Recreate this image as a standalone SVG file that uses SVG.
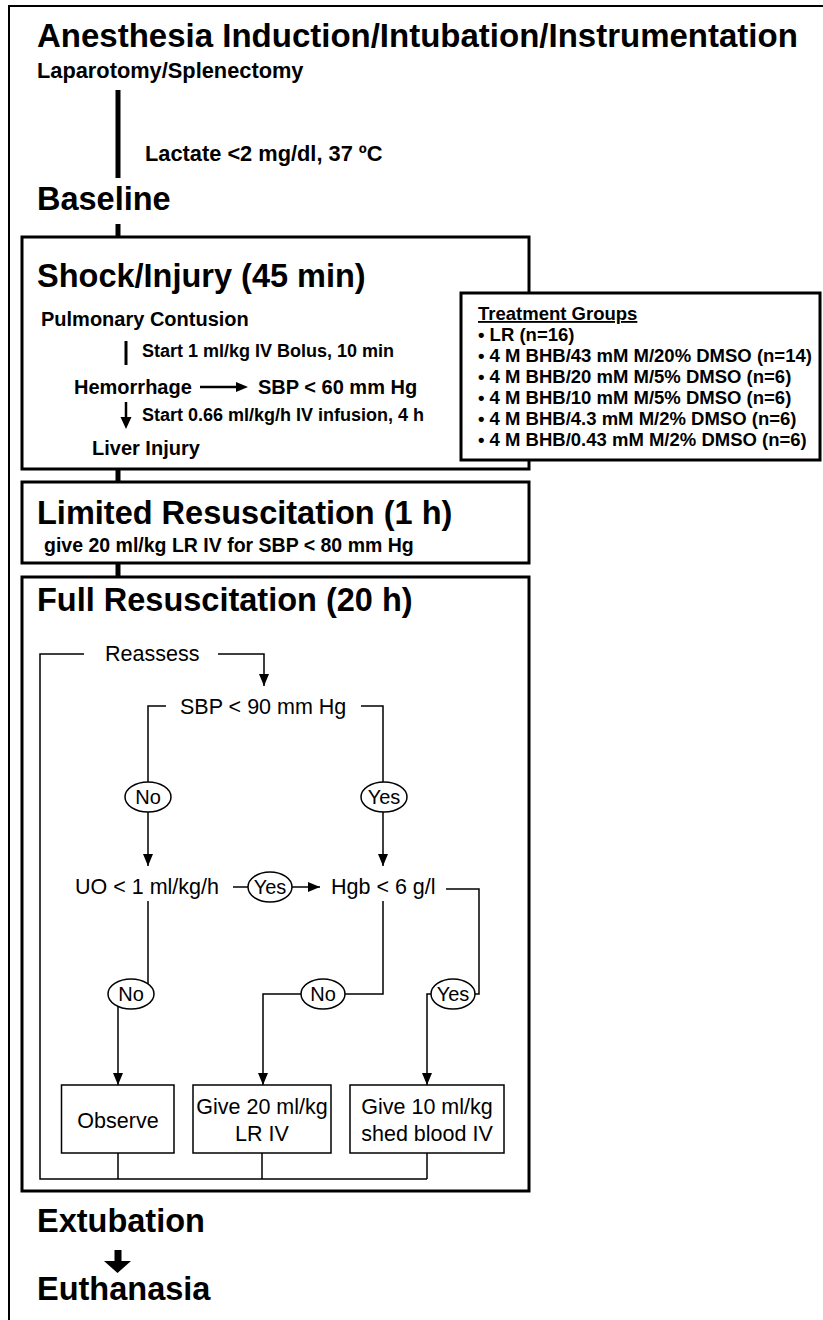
<svg xmlns="http://www.w3.org/2000/svg" width="823" height="1320" viewBox="0 0 823 1320">
<style>
text{font-family:"Liberation Sans",Arial,Helvetica,sans-serif;fill:#000}
.b{font-weight:bold}
.h{font-weight:bold;font-size:32.5px}
.s20{font-weight:bold;font-size:20px}
.s18{font-weight:bold;font-size:18px}
.tg{font-weight:bold;font-size:18.5px}
.fc{font-size:21.5px}
.yn{font-size:20px;text-anchor:middle}
.mid{text-anchor:middle}
.box{fill:#fff;stroke:#000;stroke-width:3}
.thick{stroke:#000;stroke-width:5;fill:none}
.thin{stroke:#000;stroke-width:1.5;fill:none}
.ell{fill:#fff;stroke:#000;stroke-width:1.5}
.fbox{fill:#fff;stroke:#000;stroke-width:1.5}
</style>
<defs>
<marker id="arr" markerUnits="userSpaceOnUse" markerWidth="12" markerHeight="10" refX="12" refY="5" orient="auto">
<path d="M0,0 L12,5 L0,10 z" fill="#000"/>
</marker>
</defs>
<rect x="0" y="0" width="823" height="1320" fill="#fff"/>
<path d="M9,1320 V6 H823" fill="none" stroke="#000" stroke-width="2"/>

<g id="connectors">
<line class="thick" x1="118" y1="90" x2="118" y2="178"/>
<line class="thick" x1="118" y1="224" x2="118" y2="238"/>
<line class="thick" x1="118" y1="469" x2="118" y2="482"/>
<line class="thick" x1="118" y1="563" x2="118" y2="577"/>
<path d="M432,353 H440 V414 H432 M440,383 H448" fill="none" stroke="#000" stroke-width="2.5"/>
<polygon points="114.5,1250 121.5,1250 121.5,1261 131,1261 117.5,1273 104,1261 114.5,1261" fill="#000"/>
</g>

<g id="induction">
<text class="b" x="37" y="47" font-size="33">Anesthesia Induction/Intubation/Instrumentation</text>
<text class="b" x="37" y="78" font-size="21.8">Laparotomy/Splenectomy</text>
<text class="b" x="145" y="161" font-size="21.8">Lactate &lt;2 mg/dl, 37 ºC</text>
</g>

<g id="baseline">
<text class="h" x="37" y="210">Baseline</text>
</g>

<g id="shock">
<rect class="box" x="22" y="237" width="507" height="232"/>
<text class="h" x="37" y="287">Shock/Injury (45 min)</text>
<text class="s20" x="41" y="326">Pulmonary Contusion</text>
<line x1="126" y1="341" x2="126" y2="365" stroke="#000" stroke-width="3"/>
<text class="s18" x="142" y="357">Start 1 ml/kg IV Bolus, 10 min</text>
<text class="s20" x="74" y="394">Hemorrhage</text>
<line x1="200" y1="387" x2="237" y2="387" stroke="#000" stroke-width="2.5"/>
<polygon points="236,382 248,387 236,392" fill="#000"/>
<text class="s20" x="258" y="394">SBP &lt; 60 mm Hg</text>
<line x1="126" y1="402" x2="126" y2="418" stroke="#000" stroke-width="2.5"/>
<polygon points="120.5,417 131.5,417 126,429" fill="#000"/>
<text class="s18" x="142" y="421">Start 0.66 ml/kg/h IV infusion, 4 h</text>
<text class="s20" x="92" y="455">Liver Injury</text>
</g>

<g id="treatment">
<rect class="box" x="461" y="293" width="359" height="167"/>
<text class="tg" x="478" y="320" text-decoration="underline">Treatment Groups</text>
<text class="tg" x="478" y="341">• LR (n=16)</text>
<text class="tg" x="478" y="362">• 4 M BHB/43 mM M/20% DMSO (n=14)</text>
<text class="tg" x="478" y="383">• 4 M BHB/20 mM M/5% DMSO (n=6)</text>
<text class="tg" x="478" y="404">• 4 M BHB/10 mM M/5% DMSO (n=6)</text>
<text class="tg" x="478" y="425">• 4 M BHB/4.3 mM M/2% DMSO (n=6)</text>
<text class="tg" x="478" y="446">• 4 M BHB/0.43 mM M/2% DMSO (n=6)</text>
</g>

<g id="limited">
<rect class="box" x="22" y="482" width="507" height="81"/>
<text class="h" x="37" y="524">Limited Resuscitation (1 h)</text>
<text class="b" x="44" y="552" font-size="19.5">give 20 ml/kg LR IV for SBP &lt; 80 mm Hg</text>
</g>

<g id="full">
<rect class="box" x="22" y="577" width="507" height="614"/>
<text class="h" x="37" y="611">Full Resuscitation (20 h)</text>
</g>

<g id="flow-connectors">
<path class="thin" d="M84,654 H40 V1179 H427"/>
<path class="thin" d="M218,654 H264 V686" marker-end="url(#arr)"/>
<path class="thin" d="M166,706 H148 V782"/>
<path class="thin" d="M148,812 V866" marker-end="url(#arr)"/>
<path class="thin" d="M361,706 H383 V782"/>
<path class="thin" d="M383,812 V866" marker-end="url(#arr)"/>
<path class="thin" d="M233,887 H248"/>
<path class="thin" d="M292,887 H320" marker-end="url(#arr)"/>
<path class="thin" d="M446,889 H479 V994 H475"/>
<path class="thin" d="M431,994 H427 V1085" marker-end="url(#arr)"/>
<path class="thin" d="M383,901 V994 H345"/>
<path class="thin" d="M301,994 H263 V1085" marker-end="url(#arr)"/>
<path class="thin" d="M148,901 V985"/>
<path class="thin" d="M118,1006 V1085" marker-end="url(#arr)"/>
<path class="thin" d="M118,1153 V1179 M262,1153 V1179 M427,1153 V1179"/>
</g>

<g id="reassess"><text class="fc" x="105" y="661">Reassess</text></g>
<g id="sbp90"><text class="fc" x="180" y="714">SBP &lt; 90 mm Hg</text></g>
<g id="no1"><ellipse class="ell" cx="148" cy="797" rx="23" ry="15"/><text class="yn" x="148" y="804">No</text></g>
<g id="yes1"><ellipse class="ell" cx="384" cy="797" rx="23" ry="15"/><text class="yn" x="384" y="804">Yes</text></g>
<g id="uo"><text class="fc" x="75" y="894">UO &lt; 1 ml/kg/h</text></g>
<g id="yes2"><ellipse class="ell" cx="270" cy="887" rx="22" ry="15"/><text class="yn" x="270" y="894">Yes</text></g>
<g id="hgb"><text class="fc" x="331" y="894">Hgb &lt; 6 g/l</text></g>
<g id="no2"><ellipse class="ell" cx="131" cy="994" rx="23" ry="15"/><text class="yn" x="131" y="1001">No</text></g>
<g id="no3"><ellipse class="ell" cx="323" cy="994" rx="22" ry="15"/><text class="yn" x="323" y="1001">No</text></g>
<g id="yes3"><ellipse class="ell" cx="453" cy="994" rx="22" ry="15"/><text class="yn" x="453" y="1001">Yes</text></g>
<g id="observe"><rect class="fbox" x="61.5" y="1085" width="112.5" height="68"/><text class="fc mid" x="118" y="1128">Observe</text></g>
<g id="give20"><rect class="fbox" x="193" y="1085" width="138" height="68"/><text class="fc mid" x="262" y="1114">Give 20 ml/kg</text><text class="fc mid" x="262" y="1141">LR IV</text></g>
<g id="give10"><rect class="fbox" x="350" y="1085" width="154" height="68"/><text class="fc mid" x="427" y="1114">Give 10 ml/kg</text><text class="fc mid" x="427" y="1141">shed blood IV</text></g>

<g id="extubation"><text class="h" x="37" y="1232">Extubation</text></g>
<g id="euthanasia"><text class="h" x="37" y="1300">Euthanasia</text></g>
</svg>
